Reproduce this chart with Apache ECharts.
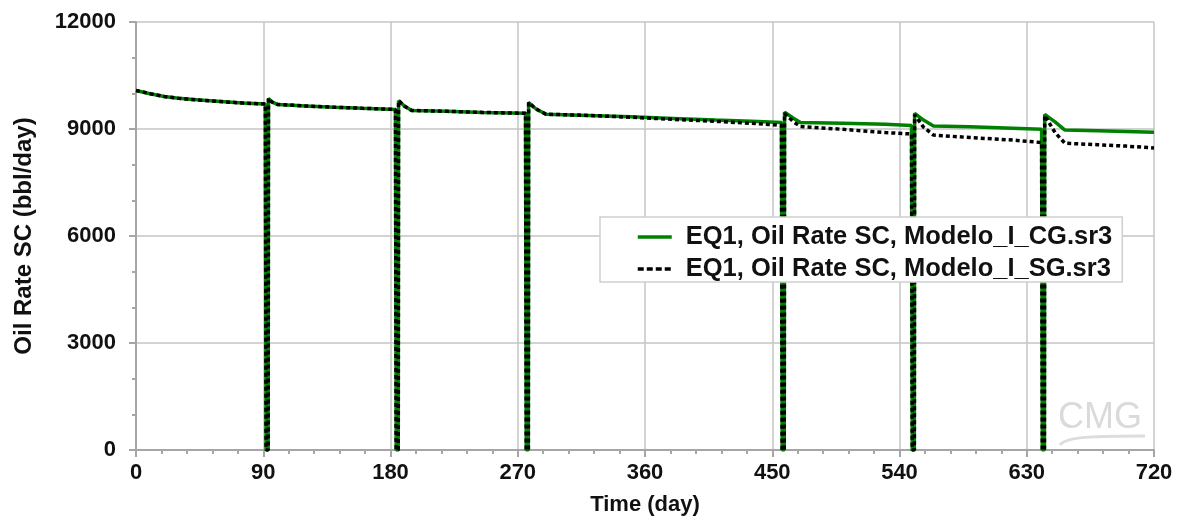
<!DOCTYPE html>
<html>
<head>
<meta charset="utf-8">
<script src="https://cdn.jsdelivr.net/npm/echarts@6/dist/echarts.min.js"></script>
<style>
html,body{margin:0;padding:0;background:#fff;}
#chart{width:1183px;height:521px;}
</style>
</head>
<body>
<div id="chart"></div>
<script>
// Time (day)
const days = [0, 10, 20, 30, 45, 60, 75, 91.5, 92, 93.5, 93.7, 96, 100, 120, 140, 160, 183.5, 184, 185.5, 185.7, 190, 195, 220, 245, 275.5, 276, 277.5, 277.7, 283, 290, 320, 350, 380, 410, 440, 456.5, 457, 458.5, 458.7, 465, 470, 500, 530, 548.5, 549, 550.5, 550.7, 557, 564, 590, 620, 640.5, 641, 642.5, 642.7, 650, 657, 680, 700, 720];
// EQ1, Oil Rate SC, Modelo_I_CG.sr3
const cgRate = [10080, 9990, 9910, 9860, 9810, 9770, 9730, 9700, 0, 0, 9860, 9760, 9690, 9645, 9610, 9580, 9550, 0, 0, 9795, 9640, 9520, 9495, 9465, 9440, 0, 0, 9740, 9560, 9415, 9380, 9340, 9295, 9250, 9210, 9180, 0, 0, 9470, 9300, 9180, 9160, 9130, 9100, 0, 0, 9440, 9250, 9085, 9060, 9020, 8990, 0, 0, 9410, 9200, 8970, 8950, 8930, 8910];
// EQ1, Oil Rate SC, Modelo_I_SG.sr3
const sgRate = [10080, 9990, 9910, 9860, 9810, 9770, 9730, 9700, 0, 0, 9860, 9760, 9690, 9645, 9610, 9580, 9550, 0, 0, 9795, 9640, 9520, 9495, 9465, 9440, 0, 0, 9740, 9560, 9415, 9380, 9330, 9270, 9215, 9150, 9105, 0, 0, 9440, 9200, 9070, 8990, 8900, 8860, 0, 0, 9400, 9050, 8830, 8760, 8690, 8620, 0, 0, 9380, 8900, 8600, 8560, 8520, 8470];
const seriesNames = ['EQ1, Oil Rate SC, Modelo_I_CG.sr3', 'EQ1, Oil Rate SC, Modelo_I_SG.sr3'];
const xTicks = [0, 90, 180, 270, 360, 450, 540, 630, 720];
const yTicks = [0, 3000, 6000, 9000, 12000];

const FONT = '"Liberation Sans", Arial, sans-serif';
const AX = '#a6a6a6';
const GRID = '#c4c4c4';

const chart = echarts.init(document.getElementById('chart'), null, {renderer: 'canvas'});
const toPairs = (vals) => days.map((d, i) => [d, vals[i]]);

chart.setOption({
  animation: false,
  backgroundColor: '#fff',
  grid: {left: 136, right: 29, top: 22, bottom: 71, containLabel: false},
  legend: {
    orient: 'vertical',
    left: 600, top: 217,
    z: 20, zlevel: 0,
    padding: [7, 10, 0, 36],
    itemGap: 6,
    itemWidth: 34, itemHeight: 14,
    backgroundColor: '#fff',
    borderColor: '#cfcfcf', borderWidth: 1.5, borderRadius: 0,
    itemStyle: {opacity: 0},
    lineStyle: {width: 3.5},
    textStyle: {fontFamily: FONT, fontWeight: 'bold', fontSize: 25.5, color: '#111', padding: [0, 0, 0, 9]},
    data: [
      {name: seriesNames[0]},
      {name: seriesNames[1], lineStyle: {type: [6, 3], width: 3.5}}
    ]
  },
  xAxis: {
    type: 'value', min: 0, max: 720, interval: 90,
    name: 'Time (day)', nameLocation: 'middle', nameGap: 44,
    nameTextStyle: {fontFamily: FONT, fontWeight: 'bold', fontSize: 22, color: '#111'},
    axisLine: {show: true, onZero: false, lineStyle: {color: AX, width: 2}},
    axisTick: {show: true, inside: false, length: 7, lineStyle: {color: AX, width: 2}},
    minorTick: {show: true, splitNumber: 5, length: 4, lineStyle: {color: AX, width: 2}},
    splitLine: {show: true, lineStyle: {color: GRID, width: 1.5}},
    axisLabel: {margin: 12, fontFamily: FONT, fontWeight: 'bold', fontSize: 22, color: '#111',
      formatter: (v) => xTicks.includes(v) ? String(v) : ''}
  },
  yAxis: {
    type: 'value', min: 0, max: 12000, interval: 3000,
    name: 'Oil Rate SC (bbl/day)', nameLocation: 'middle', nameGap: 100,
    nameTextStyle: {fontFamily: FONT, fontWeight: 'bold', fontSize: 24, color: '#111'},
    axisLine: {show: true, onZero: false, lineStyle: {color: AX, width: 2}},
    axisTick: {show: true, inside: false, length: 7, lineStyle: {color: AX, width: 2}},
    minorTick: {show: true, splitNumber: 3, length: 4, lineStyle: {color: AX, width: 2}},
    splitLine: {show: true, lineStyle: {color: GRID, width: 1.5}},
    axisLabel: {margin: 20, fontFamily: FONT, fontWeight: 'bold', fontSize: 22, color: '#111',
      formatter: (v) => yTicks.includes(v) ? String(v) : ''}
  },
  graphic: [
    {type: 'text', left: 1058, top: 400, silent: true, z: 1,
      style: {text: 'CMG', fontFamily: FONT, fontSize: 36, fill: '#dadada'}},
    {type: 'bezierCurve', silent: true, z: 1,
      shape: {x1: 1060, y1: 445, x2: 1145, y2: 436, cpx1: 1066, cpy1: 436, cpx2: 1100, cpy2: 436},
      style: {stroke: '#dcdcdc', lineWidth: 3, fill: null}}
  ],
  series: [
    {
      name: seriesNames[0], type: 'line', data: toPairs(cgRate),
      showSymbol: false, symbol: 'none', z: 3,
      lineStyle: {color: '#008000', width: 3.5},
      itemStyle: {color: '#008000'}
    },
    {
      name: seriesNames[1], type: 'line', data: toPairs(sgRate),
      showSymbol: false, symbol: 'none', z: 4,
      lineStyle: {color: '#000', width: 3.5, type: [4, 3]},
      itemStyle: {color: '#000'}
    }
  ]
});
</script>
</body>
</html>
